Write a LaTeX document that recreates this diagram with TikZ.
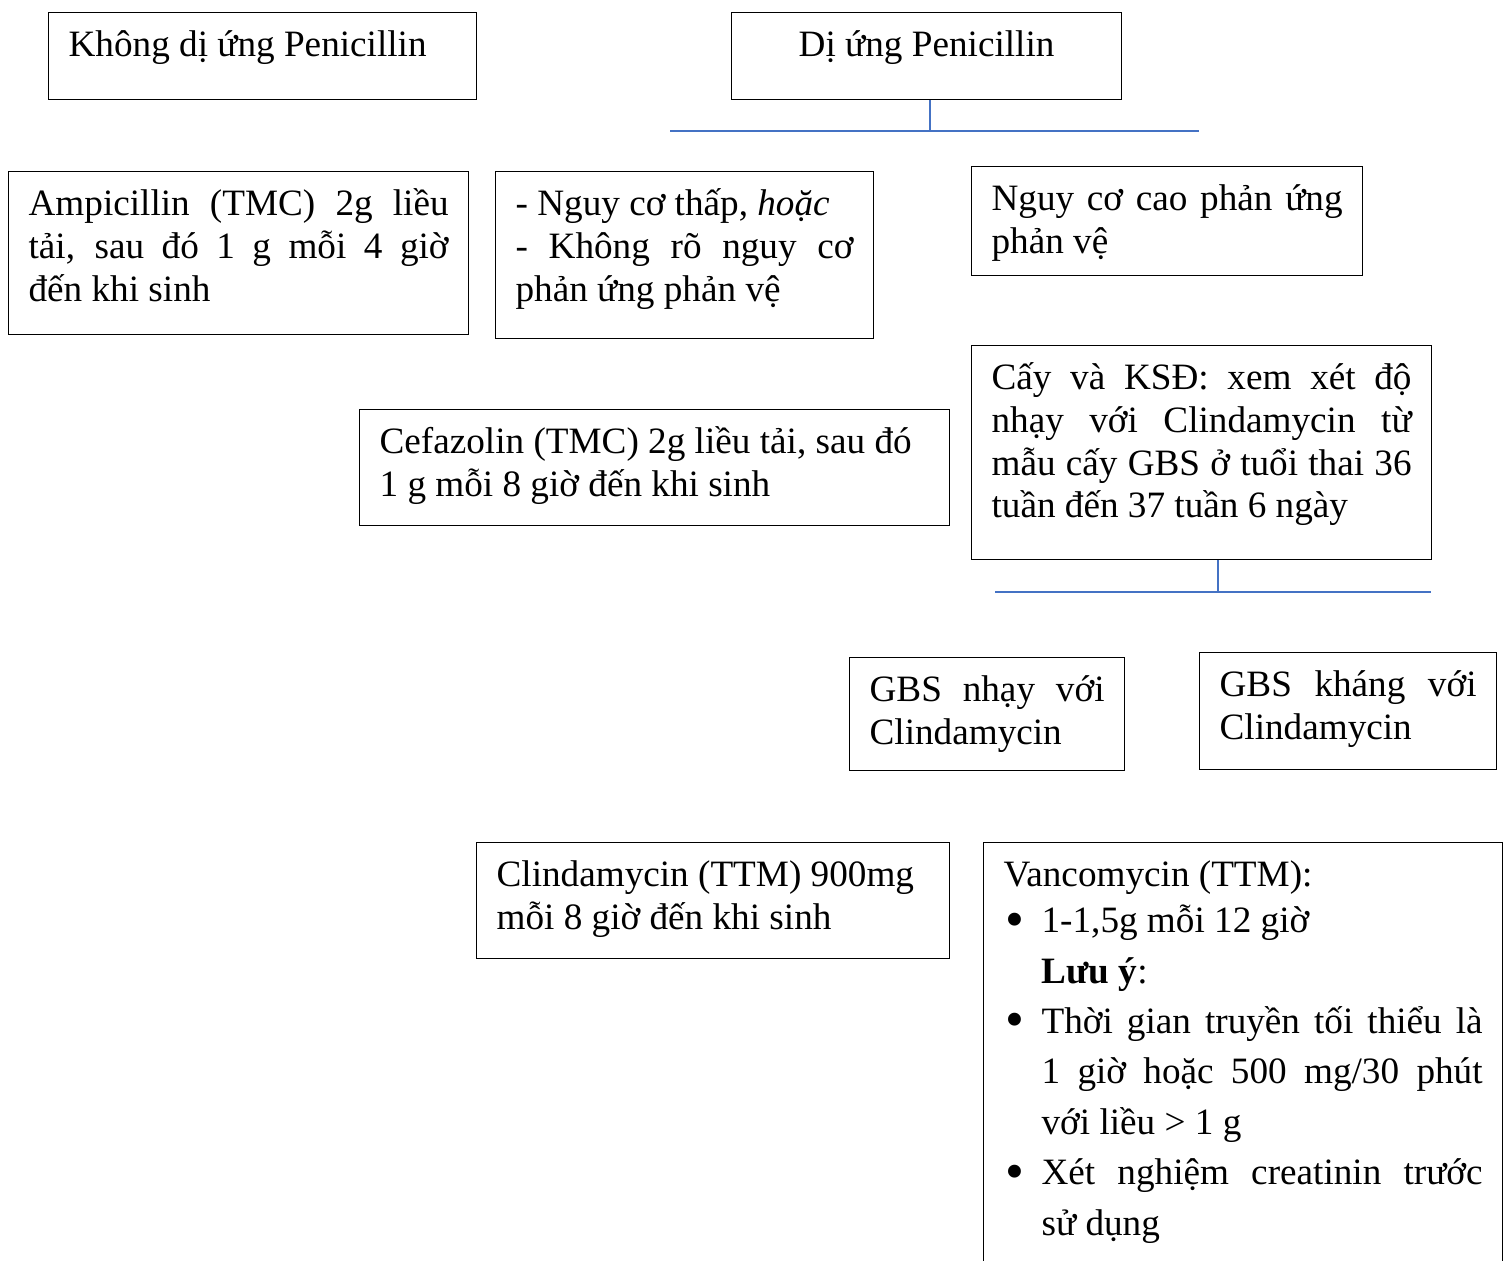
\documentclass[tikz,border=0pt]{standalone}
\usepackage{fontspec}
\setmainfont{Liberation Serif}
\usepackage{xcolor}
\definecolor{linkblue}{RGB}{68,114,196}
\tikzstyle{flow-box} = [draw=black, line width=0.6pt, rectangle,
    anchor=north west, inner xsep=10pt, inner ysep=4.5pt]
\tikzstyle{flow-link} = [draw=linkblue, line width=1pt]
\newcommand{\boxtext}[3]{%
    \begin{minipage}[t][#2][t]{#1}%
    \fontsize{18.6pt}{21.4pt}\selectfont
    \tolerance=10000 \hyphenpenalty=10000 \hbadness=10000
    \rule{0pt}{17.5pt}#3%
    \end{minipage}}
\newcommand{\bul}{\leavevmode\llap{\makebox[19pt][l]{\hspace{1pt}%
    \raisebox{-0.12em}{\scalebox{1.45}{\textbullet}}}}}

\begin{document}
\begin{tikzpicture}[x=0.5pt, y=-0.5pt]
\clip (0,0) rectangle (1510,1261);

\node[flow-box] (nopen) at (48,12) {\boxtext{194pt}{34.5pt}{%
    Không dị ứng Penicillin}};
\node[flow-box] (pen) at (731,12) {\boxtext{175pt}{34.5pt}{%
    \centering Dị ứng Penicillin}};

\node[flow-box] (ampi) at (8,171) {\boxtext{210pt}{72.5pt}{%
    Ampicillin (TMC) 2g liều\linebreak tải, sau đó 1 g mỗi 4 giờ\linebreak đến khi sinh}};
\node[flow-box] (lowrisk) at (495,171) {\boxtext{169pt}{74.5pt}{%
    - Nguy cơ thấp, \textit{hoặc}\\ - Không rõ nguy cơ\linebreak phản ứng phản vệ}};
\node[flow-box] (highrisk) at (971,166) {\boxtext{175.5pt}{45.5pt}{%
    Nguy cơ cao phản ứng\linebreak phản vệ}};

\node[flow-box] (culture) at (971,345) {\boxtext{210pt}{98pt}{%
    Cấy và KSĐ: xem xét độ\linebreak nhạy với Clindamycin từ\linebreak
    mẫu cấy GBS ở tuổi thai 36\linebreak tuần đến 37 tuần 6 ngày}};
\node[flow-box] (cefa) at (359,409) {\boxtext{275pt}{49pt}{%
    Cefazolin (TMC) 2g liều tải, sau đó\\ 1 g mỗi 8 giờ đến khi sinh}};

\node[flow-box] (gbs-sens) at (849,657) {\boxtext{117.5pt}{47.5pt}{%
    GBS nhạy với\linebreak Clindamycin}};
\node[flow-box] (gbs-res) at (1199,652) {\boxtext{128.5pt}{49.5pt}{%
    GBS kháng với\linebreak Clindamycin}};

\node[flow-box] (clinda) at (476,842) {\boxtext{216.5pt}{49pt}{%
    Clindamycin (TTM) 900mg\\ mỗi 8 giờ đến khi sinh}};
\node[flow-box] (vanco) at (983,842) {\boxtext{239.5pt}{211pt}{%
    Vancomycin (TTM):\par\vspace{-2.2pt}
    {\baselineskip=25.2pt \leftskip=19pt
    \bul 1-1,5g mỗi 12 giờ\par
    \textbf{Lưu ý}:\par
    \bul Thời gian truyền tối thiểu là\linebreak 1 giờ hoặc 500 mg/30 phút\linebreak với liều > 1 g\par
    \bul Xét nghiệm creatinin trước\linebreak sử dụng\par}}};

% blue joints
\coordinate (pen-joint) at (930,131);
\coordinate (pen-left) at (670,131);
\coordinate (pen-right) at (1199,131);
\draw[flow-link] (pen.south -| pen-joint) -- (pen-joint);
\draw[flow-link] (pen-left) -- (pen-right);

\coordinate (culture-joint) at (1218,592);
\coordinate (culture-left) at (995,592);
\coordinate (culture-right) at (1431,592);
\draw[flow-link] (culture.south -| culture-joint) -- (culture-joint);
\draw[flow-link] (culture-left) -- (culture-right);
\end{tikzpicture}
\end{document}
